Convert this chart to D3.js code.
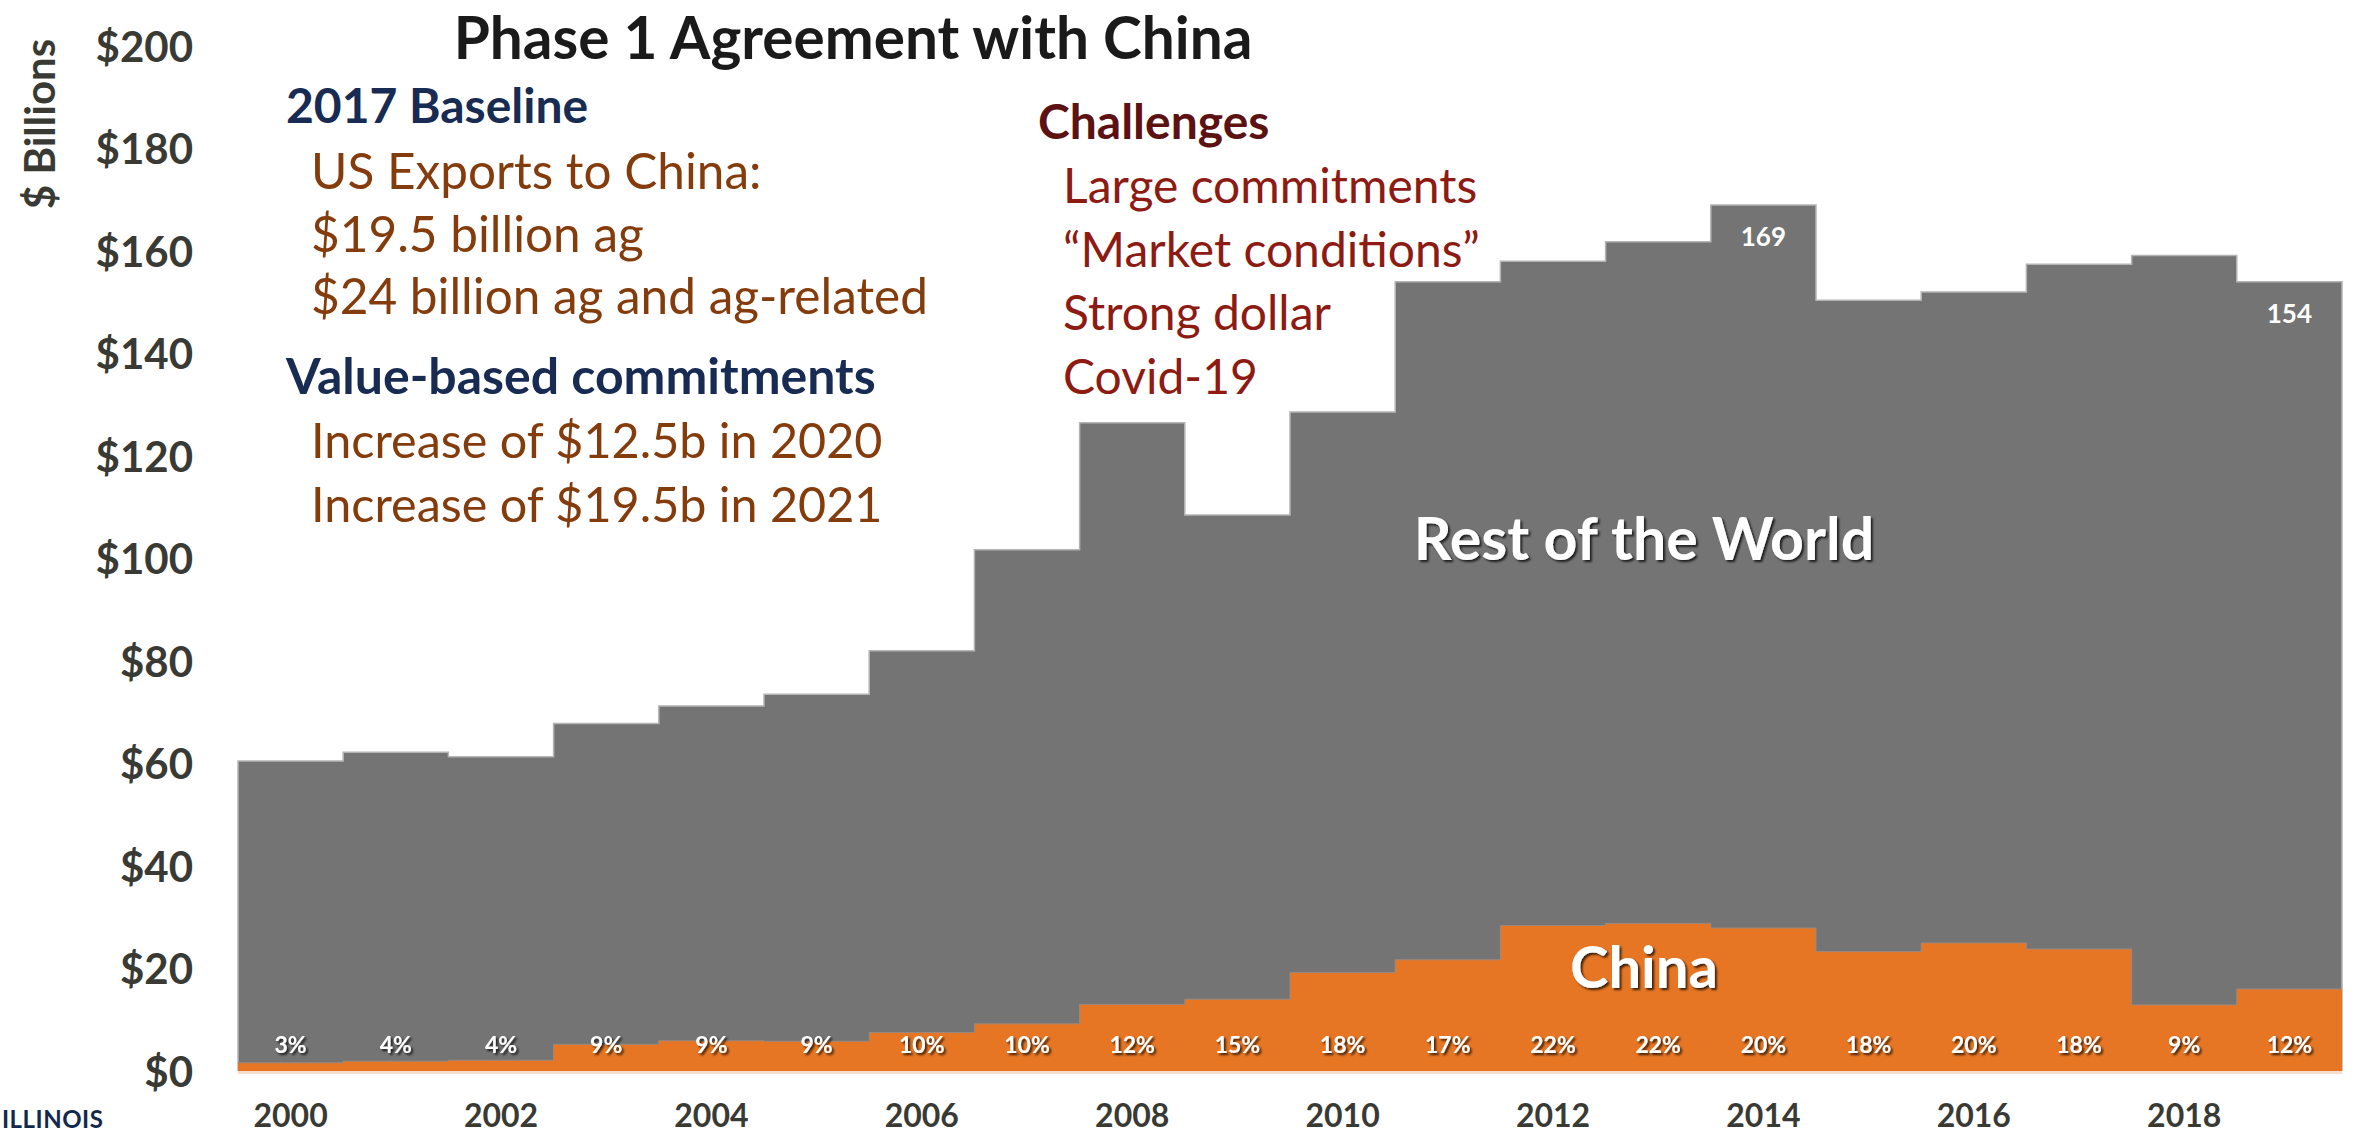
<!DOCTYPE html>
<html>
<head>
<meta charset="utf-8">
<script src="https://cdn.jsdelivr.net/npm/d3@7"></script>
<style>
  html, body { margin: 0; padding: 0; background: #ffffff; }
  svg { display: block; font-family: Lato, "Open Sans", sans-serif; }
</style>
</head>
<body>
<svg id="chart" width="2356" height="1136"></svg>
<script>
// US agricultural exports, $ billions
const years = [2000, 2001, 2002, 2003, 2004, 2005, 2006, 2007, 2008, 2009,
               2010, 2011, 2012, 2013, 2014, 2015, 2016, 2017, 2018, 2019];
const totalExports = [60.5, 62.2, 61.3, 67.8, 71.2, 73.5, 82.0, 101.7, 126.5, 108.5,
                      128.6, 154.0, 158.0, 161.8, 169, 150.4, 152.0, 157.4, 159.1, 154];
const chinaExports = [1.6, 1.9, 2.1, 5.2, 5.9, 5.8, 7.5, 9.2, 13.0, 14.0,
                      19.2, 21.7, 28.4, 28.8, 27.9, 23.3, 25.0, 23.8, 12.9, 16.0];
const chinaShareLabels = ["3%", "4%", "4%", "9%", "9%", "9%", "10%", "10%", "12%", "15%",
                          "18%", "17%", "22%", "22%", "20%", "18%", "20%", "18%", "9%", "12%"];
const valueLabelYears = [2014, 2019];
const yTicks = [0, 20, 40, 60, 80, 100, 120, 140, 160, 180, 200];
const xTickYears = [2000, 2002, 2004, 2006, 2008, 2010, 2012, 2014, 2016, 2018];

const title = "Phase 1 Agreement with China";
const baselineHeader = "2017 Baseline";
const baselineLines = ["US Exports to China:", "$19.5 billion ag", "$24 billion ag and ag-related"];
const commitHeader = "Value-based commitments";
const commitLines = ["Increase of $12.5b in 2020", "Increase of $19.5b in 2021"];
const challengeHeader = "Challenges";
const challengeLines = ["Large commitments", "\u201CMarket conditions\u201D", "Strong dollar", "Covid-19"];

const svg = d3.select("#chart");

const x = d3.scaleBand().domain(years).range([238, 2342]).padding(0);
const y = d3.scaleLinear().domain([0, 200]).range([1071, 46]);
const bw = x.bandwidth();

// shadow used by the white in-chart labels
const defs = svg.append("defs");
const shadow = defs.append("filter").attr("id", "shadow")
  .attr("x", "-20%").attr("y", "-20%").attr("width", "140%").attr("height", "140%");
shadow.append("feDropShadow").attr("dx", 2).attr("dy", 2).attr("stdDeviation", 1)
  .attr("flood-color", "#000").attr("flood-opacity", 0.75);

// each year is drawn as a flat step across its band
function steps(values) {
  return values.flatMap((v, i) => [[x(years[i]), v], [x(years[i]) + bw, v]]);
}
const area = d3.area().x(p => p[0]).y0(y(0)).y1(p => y(p[1]));
const edge = d3.line().x(p => p[0]).y(p => y(p[1]));

const totalPts = steps(totalExports);
const chinaPts = steps(chinaExports);

// faint glow under the baseline
svg.append("rect").attr("x", x(years[0])).attr("y", y(0)).attr("width", bw * years.length)
  .attr("height", 3).attr("fill", "#f7dccf");

svg.append("path").attr("d", area(totalPts)).attr("fill", "#737473");
svg.append("path")
  .attr("d", edge([[x(years[0]), 0], ...totalPts, [x(years[years.length - 1]) + bw, 0]]))
  .attr("fill", "none").attr("stroke", "#b4b4b4").attr("stroke-width", 1.5);

svg.append("path").attr("d", area(chinaPts)).attr("fill", "#e67624");
svg.append("path").attr("d", edge(chinaPts))
  .attr("fill", "none").attr("stroke", "#9a8a80").attr("stroke-width", 1);

// y axis
const yAxis = d3.axisLeft(y).tickValues(yTicks).tickSize(0).tickPadding(0)
  .tickFormat(d => "$" + d);
const gy = svg.append("g").attr("transform", "translate(193,0)").call(yAxis);
gy.select(".domain").remove();
gy.selectAll("text").attr("font-family", "Lato, sans-serif").attr("font-size", 42)
  .attr("font-weight", 700).attr("fill", "#3a3a35").attr("dy", "0.36em");

svg.append("text").attr("transform", "translate(55,124) rotate(-90)")
  .attr("text-anchor", "middle").attr("font-size", 42).attr("font-weight", 700)
  .attr("fill", "#3a3a35").text("$ Billions");

// x axis
const xAxis = d3.axisBottom(x).tickValues(xTickYears).tickSize(0).tickPadding(0);
const gx = svg.append("g").attr("transform", "translate(0,1127)").call(xAxis);
gx.select(".domain").remove();
gx.selectAll("text").attr("font-family", "Lato, sans-serif").attr("font-size", 32)
  .attr("font-weight", 700).attr("fill", "#3a3a35").attr("dy", 0).attr("y", 0);

// China share labels along the bottom
svg.append("g").selectAll("text").data(years).join("text")
  .attr("x", d => x(d) + bw / 2).attr("y", 1053)
  .attr("text-anchor", "middle").attr("font-size", 23).attr("font-weight", 700)
  .attr("fill", "#ffffff").attr("filter", "url(#shadow)")
  .text((d, i) => chinaShareLabels[i]);

// total value labels
svg.append("g").selectAll("text").data(valueLabelYears).join("text")
  .attr("x", d => x(d) + bw / 2)
  .attr("y", d => y(totalExports[years.indexOf(d)]) + 41)
  .attr("text-anchor", "middle").attr("font-size", 26).attr("font-weight", 700)
  .attr("fill", "#ffffff")
  .text(d => d3.format(".0f")(totalExports[years.indexOf(d)]));

// series names
svg.append("text").attr("x", 1644).attr("y", 560).attr("text-anchor", "middle")
  .attr("font-size", 59).attr("font-weight", 700).attr("fill", "#ffffff")
  .attr("filter", "url(#shadow)").text("Rest of the World");
svg.append("text").attr("x", 1644).attr("y", 988).attr("text-anchor", "middle")
  .attr("font-size", 58).attr("font-weight", 700).attr("fill", "#ffffff")
  .attr("filter", "url(#shadow)").text("China");

// title
svg.append("text").attr("x", 853).attr("y", 59).attr("text-anchor", "middle")
  .attr("font-size", 58.5).attr("font-weight", 700).attr("fill", "#1a1a1a").text(title);

// notes blocks
function textBlock(header, lines, hx, bx, hy, firstY, step, headerSize, lineSize, headerColor, lineColor) {
  svg.append("text").attr("x", hx).attr("y", hy).attr("font-size", headerSize)
    .attr("font-weight", 700).attr("fill", headerColor).text(header);
  svg.append("g").selectAll("text").data(lines).join("text")
    .attr("x", bx).attr("y", (d, i) => firstY + i * step)
    .attr("font-size", lineSize).attr("font-weight", 400).attr("fill", lineColor).text(d => d);
}
textBlock(baselineHeader, baselineLines, 286, 311, 123, 189, 62.5, 48, 49.5, "#172b53", "#843c0c");
textBlock(commitHeader, commitLines, 286, 311, 394, 458, 64, 50, 48.5, "#172b53", "#843c0c");
textBlock(challengeHeader, challengeLines, 1038, 1063, 139, 203, 63.5, 48, 48, "#5c1212", "#8d1b13");

// university wordmark at the lower left corner
svg.append("text").attr("x", 2).attr("y", 1128).attr("text-anchor", "start")
  .attr("font-size", 24).attr("font-weight", 700).attr("letter-spacing", 0.5)
  .attr("fill", "#13294b").text("ILLINOIS");
</script>
</body>
</html>
